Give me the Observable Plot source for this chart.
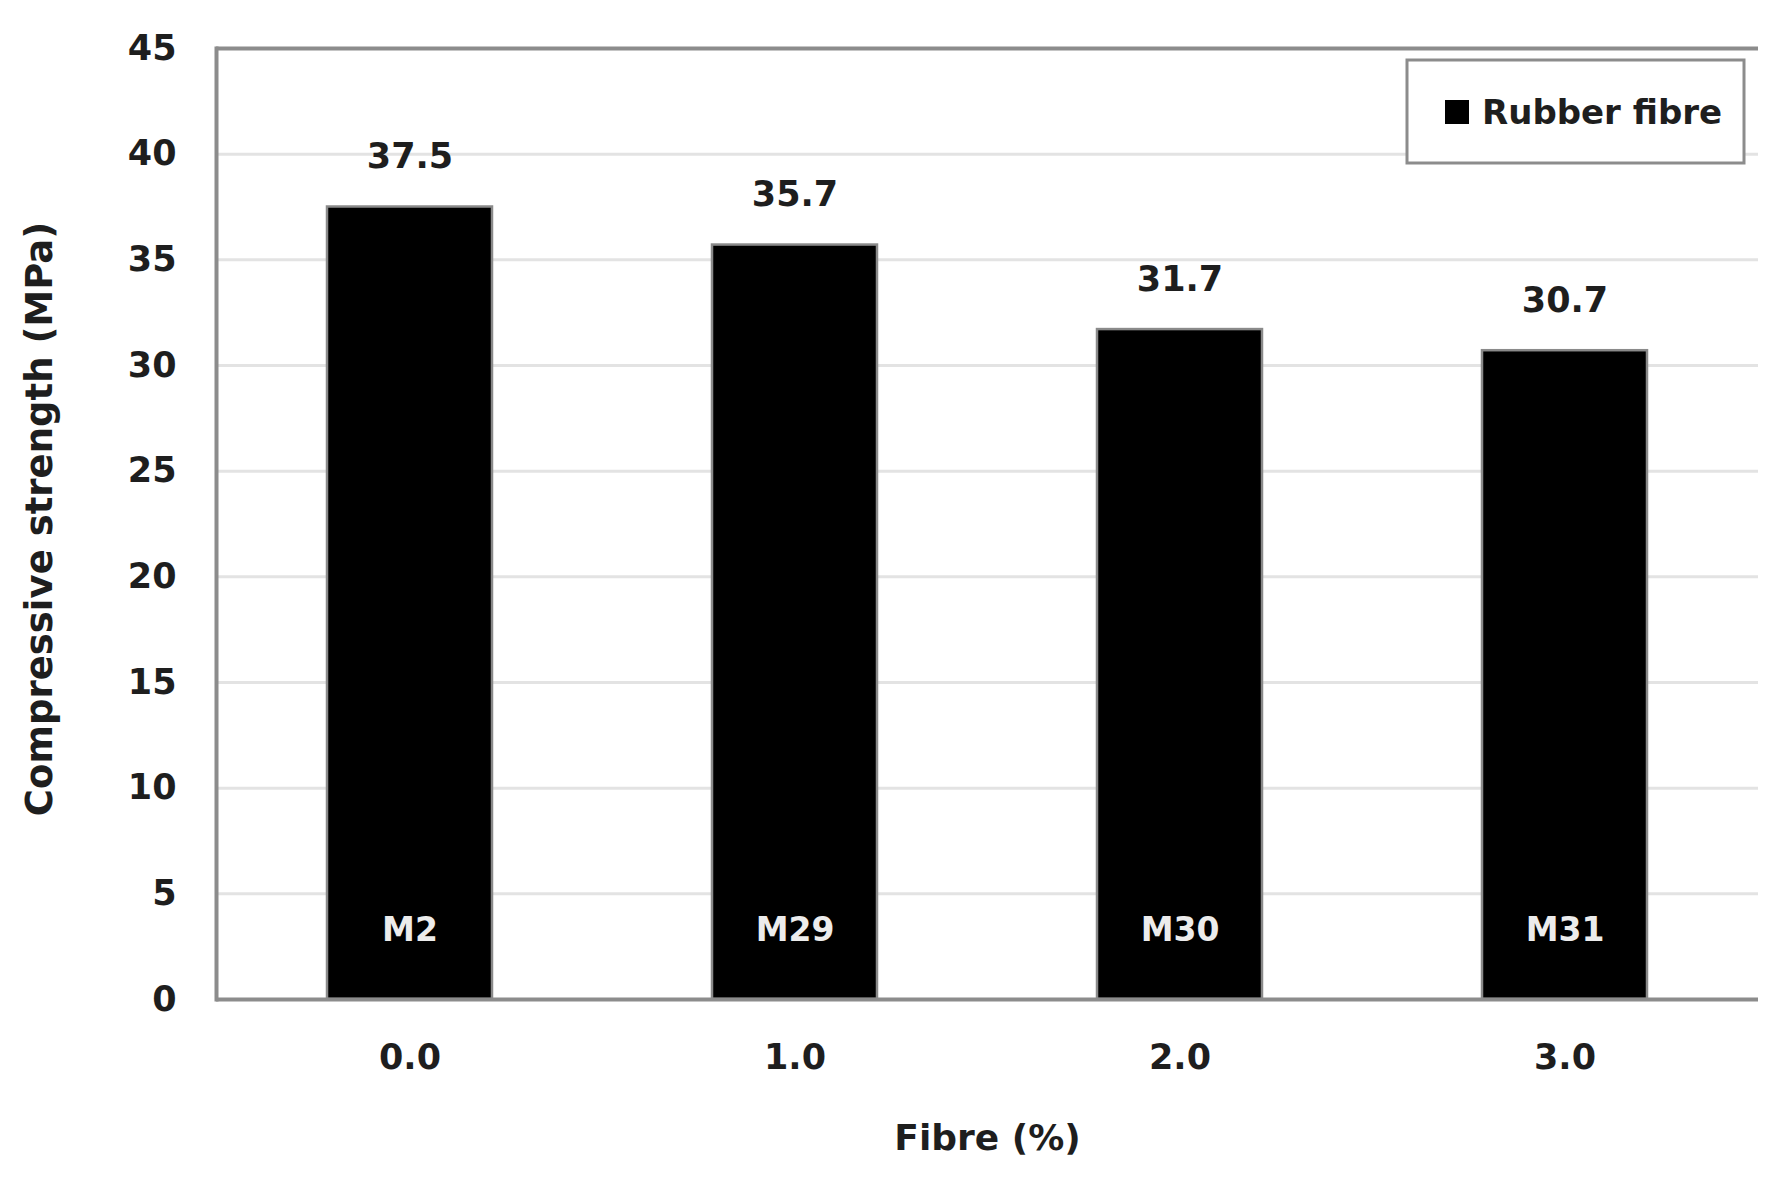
<!DOCTYPE html>
<html>
<head>
<meta charset="utf-8">
<script src="https://cdn.jsdelivr.net/npm/d3@7"></script>
<script src="https://cdn.jsdelivr.net/npm/@observablehq/plot@0.6"></script>
<style>
  html, body { margin: 0; padding: 0; background: #fff; }
  #chart { position: relative; width: 1784px; height: 1191px; }
</style>
</head>
<body>
<div id="chart"></div>
<script>
const fibre = ["0.0", "1.0", "2.0", "3.0"];
const mixes = ["M2", "M29", "M30", "M31"];
const strength = [37.5, 35.7, 31.7, 30.7];
const yTicks = [0, 5, 10, 15, 20, 25, 30, 35, 40, 45];
const seriesName = "Rubber fibre";

const data = fibre.map((f, i) => ({fibre: f, mix: mixes[i], value: strength[i]}));

const FONT = "'DejaVu Sans', sans-serif";
const INK = "#1e1e1e";
const W = 1784, H = 1191;
const mL = 216, mT = 48, mR = 26, mB = 192;

const plot = Plot.plot({
  width: W,
  height: H,
  marginLeft: mL,
  marginTop: mT,
  marginRight: mR,
  marginBottom: mB,
  style: {fontFamily: FONT, fontWeight: "bold", fontSize: "35px", color: INK, background: "#fff"},
  x: {domain: fibre, paddingInner: 0.572, paddingOuter: 0.286, label: null},
  y: {domain: [0, 45], label: null},
  marks: [
    Plot.gridY(yTicks, {stroke: "#e3e3e3", strokeOpacity: 1, strokeWidth: 3}),
    Plot.barY(data, {x: "fibre", y: "value", fill: "#000", stroke: "#8a8a8a", strokeWidth: 2.5}),
    Plot.ruleY([0], {stroke: "#8c8c8c", strokeWidth: 4}),
    Plot.ruleY([45], {stroke: "#8c8c8c", strokeWidth: 4}),
    Plot.frame({anchor: "left", stroke: "#8c8c8c", strokeWidth: 4}),
    Plot.axisY(yTicks, {tickSize: 0, tickPadding: 40, fontSize: 35, fontWeight: "bold", fill: INK, label: null}),
    Plot.axisX({tickSize: 0, tickPadding: 45, fontSize: 35, fontWeight: "bold", fill: INK, label: null}),
    Plot.text(data, {x: "fibre", y: "value", text: d => d.value.toFixed(1), dy: -50, fontSize: 35, fontWeight: "bold", fill: INK}),
    Plot.text(data, {x: "fibre", y: 0, text: "mix", dy: -69, fontSize: 33, fontWeight: "bold", fill: "#ececec"}),
    Plot.text(["Fibre (%)"], {frameAnchor: "bottom", dy: 150, fontSize: 36, fontWeight: "bold", fill: INK}),
    Plot.text(["Compressive strength (MPa)"], {frameAnchor: "left", textAnchor: "middle", dx: -176, dy: -5, rotate: -90, fontSize: 37, fontWeight: "bold", fill: INK})
  ]
});

document.getElementById("chart").appendChild(plot);

// legend box inside the plot area (top-right)
const svg = d3.select(plot);
const lg = svg.append("g").attr("font-family", FONT).attr("font-weight", "bold").attr("text-anchor", "start");
lg.append("rect").attr("x", 1407).attr("y", 60).attr("width", 337).attr("height", 103)
  .attr("fill", "#fff").attr("stroke", "#8c8c8c").attr("stroke-width", 3);
lg.append("rect").attr("x", 1445).attr("y", 100).attr("width", 24).attr("height", 24).attr("fill", "#000");
lg.append("text").attr("x", 1482).attr("y", 112).attr("dy", "0.35em").attr("font-size", 34).attr("fill", INK).text(seriesName);
</script>
</body>
</html>
